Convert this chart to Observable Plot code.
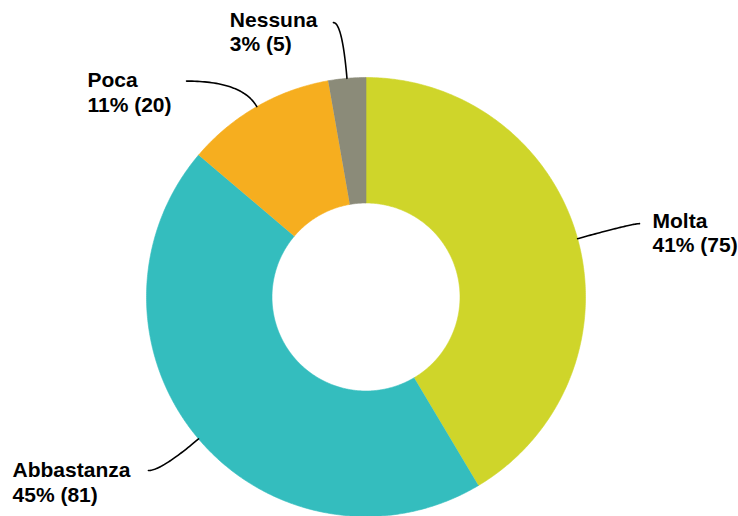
<!DOCTYPE html>
<html><head><meta charset="utf-8">
<script src="https://cdn.jsdelivr.net/npm/d3@7"></script>
<script src="https://cdn.jsdelivr.net/npm/@observablehq/plot@0.6"></script>
<style>body{margin:0;background:#fff}</style>
</head><body><div id="chart"></div>
<script>
// ---- data ----
const categories = ["Molta", "Abbastanza", "Poca", "Nessuna"];
const counts = [75, 81, 20, 5];
const percentLabels = ["41%", "45%", "11%", "3%"];
const colors = ["#cfd52a", "#34bdbe", "#f6ae1f", "#8b8b79"];

// ---- layout ----
const W = 738, H = 516;
const cx = 365.5, cy = 296.5, R = 219.5, r0 = 94;
const FS = 21, LH = 24.5;
const labelLayout = {
  Molta:      {da: 0.4,  rr: 1.290, gap: 13, side: "right", dy: 4},
  Abbastanza: {da: 1.7,  rr: 1.268, gap: 18, side: "left",  dy: 6.5},
  Poca:       {da: -9.9, rr: 1.279, gap: 15, side: "left",  dy: 6},
  Nessuna:    {da: -1.8, rr: 1.259, gap: 16, side: "left",  dy: 4}
};
const rad = Math.PI / 180;
const polar = (deg, rpx) => [cx + rpx * Math.sin(deg * rad), cy - rpx * Math.cos(deg * rad)];

const rows = categories.map((name, i) => ({name, count: counts[i], pct: percentLabels[i]}));
const arcs = d3.pie().sort(null).value(d => d.count)(rows);

// slice polygons
const slicePts = [];
arcs.forEach(s => {
  const a0 = s.startAngle / rad, a1 = s.endAngle / rad;
  const n = Math.max(8, Math.ceil((a1 - a0) * 2));
  for (let k = 0; k <= n; k++) { const [x, y] = polar(a0 + (a1 - a0) * k / n, R); slicePts.push({name: s.data.name, x, y}); }
  for (let k = n; k >= 0; k--) { const [x, y] = polar(a0 + (a1 - a0) * k / n, r0); slicePts.push({name: s.data.name, x, y}); }
});

// leader lines and labels
const ctx = document.createElement("canvas").getContext("2d");
ctx.font = `bold ${FS}px 'Liberation Sans'`;
const leaderPts = [];
const nameLabels = [], valueLabels = [];
arcs.forEach(s => {
  const d = s.data, L = labelLayout[d.name];
  const mid = (s.startAngle + s.endAngle) / 2 / rad;
  const P0 = polar(mid, R);
  const P2 = polar(mid + L.da, L.rr * R);
  const dirx = Math.sin(mid * rad), diry = -Math.cos(mid * rad);
  let t = (P2[1] - P0[1]) / diry;
  if (!isFinite(t) || t < 0) t = 0;
  const P1 = [P0[0] + t * dirx, P2[1]];
  const N = 40;
  for (let k = 0; k <= N; k++) {
    const u = k / N;
    const x = (1 - u) * (1 - u) * P0[0] + 2 * (1 - u) * u * P1[0] + u * u * P2[0];
    const y = (1 - u) * (1 - u) * P0[1] + 2 * (1 - u) * u * P1[1] + u * u * P2[1];
    leaderPts.push({name: d.name, x, y});
  }
  const line2 = `${d.pct} (${d.count})`;
  const w = Math.max(ctx.measureText(d.name).width, ctx.measureText(line2).width);
  const tx = L.side === "right" ? P2[0] + L.gap : P2[0] - L.gap - w;
  const base = P2[1] + L.dy;
  nameLabels.push({x: tx, y: base, text: d.name});
  valueLabels.push({x: tx, y: base + LH, text: line2});
});

const textOpts = {x: "x", y: "y", text: "text", textAnchor: "start", lineAnchor: "bottom",
  fontSize: FS, fontWeight: "bold", fontFamily: "'Liberation Sans', Arial, sans-serif", fill: "#000"};

const chart = Plot.plot({
  width: W, height: H,
  margin: 0,
  x: {type: "linear", domain: [0, W], range: [0, W], axis: null},
  y: {type: "linear", domain: [0, H], range: [0, H], axis: null},
  color: {domain: categories, range: colors},
  marks: [
    Plot.line(slicePts, {x: "x", y: "y", z: "name", fill: "name", stroke: "name", strokeWidth: 0.6}),
    Plot.line(leaderPts, {x: "x", y: "y", z: "name", stroke: "#000", strokeWidth: 1.6}),
    Plot.text(nameLabels, textOpts),
    Plot.text(valueLabels, textOpts)
  ]
});
document.getElementById("chart").appendChild(chart);
</script>
</body></html>
